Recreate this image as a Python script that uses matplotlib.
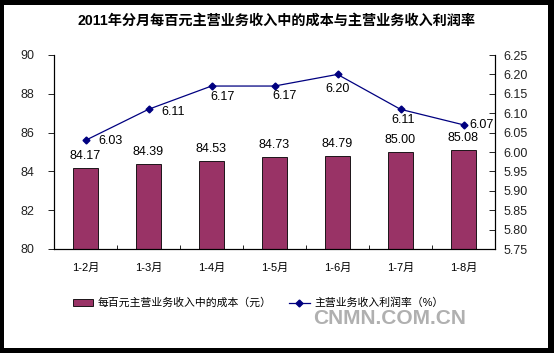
import matplotlib
matplotlib.use("Agg")
import matplotlib.pyplot as plt
from matplotlib.patches import Rectangle
import numpy as np

plt.rcParams['font.family'] = ['Liberation Sans', 'Noto Sans CJK SC', 'DejaVu Sans']

months = ["1-2月", "1-3月", "1-4月", "1-5月", "1-6月", "1-7月", "1-8月"]
cost = [84.17, 84.39, 84.53, 84.73, 84.79, 85.00, 85.08]
margin = [6.03, 6.11, 6.17, 6.17, 6.20, 6.11, 6.07]

title = "2011年分月每百元主营业务收入中的成本与主营业务收入利润率"
bar_name = "每百元主营业务收入中的成本（元）"
line_name = "主营业务收入利润率（%）"

# per-label placement of the line labels, in pixels (dx, dy downwards)
line_lab_off = [(25, 1), (25, 3), (11, 11), (10, 10), (0, 15), (3, 11), (18, 0)]

BAR = "#993366"
LINE = "#000080"

W, H = 554, 353
fig = plt.figure(figsize=(W / 100, H / 100), dpi=100)
fig.patch.set_facecolor("black")
fig.add_artist(Rectangle((4 / W, 5 / H), 544 / W, 343 / H, transform=fig.transFigure,
                         facecolor="white", edgecolor="none", zorder=-10))

ax = fig.add_axes([54 / W, 1 - 249 / H, 441 / W, 194 / H])
x = np.arange(len(months))
ax.bar(x, cost, width=0.41, color=BAR, edgecolor="black", linewidth=0.6,
       label=bar_name, zorder=2)
ax.set_ylim(80, 90)
ax.set_yticks(np.arange(80, 91, 2))
ax.set_xlim(-0.5, len(months) - 0.5)
ax.set_xticks(x)
ax.set_xticklabels(months, fontsize=8)
ax.set_xticks(np.arange(-0.5, len(months)), minor=True)
ax.tick_params(axis="x", which="major", length=0, pad=10)
ax.tick_params(axis="x", which="minor", direction="in", length=3, width=0.6)
ax.tick_params(axis="y", direction="out", length=4, width=0.6, labelsize=9,
               labelcolor="#222222", pad=10)
ax.spines["top"].set_visible(False)
for s in ["left", "bottom", "right"]:
    ax.spines[s].set_linewidth(0.8)

for xi, v in zip(x, cost):
    ax.annotate(f"{v:.2f}", (xi, v), xytext=(0, 4.5), textcoords="offset points",
                ha="center", va="bottom", fontsize=9)

ax2 = ax.twinx()
ax2.plot(x, margin, color=LINE, marker="D", markersize=3.5, linewidth=0.9,
         label=line_name, zorder=3)
ax2.set_ylim(5.75, 6.25)
ticks2 = np.arange(5.75, 6.26, 0.05)
ax2.set_yticks(ticks2)
ax2.set_yticklabels([f"{t:.2f}" for t in ticks2])
ax2.tick_params(axis="y", direction="in", length=4, width=0.6, labelsize=9,
                labelcolor="#222222", pad=6)
ax2.spines["top"].set_visible(False)
ax2.spines["right"].set_linewidth(0.8)

for xi, v, (dx, dy) in zip(x, margin, line_lab_off):
    ax2.annotate(f"{v:.2f}", (xi, v), xytext=(dx * 0.72, -dy * 0.72),
                 textcoords="offset points", ha="center", va="center", fontsize=9)

fig.text(0.5, 1 - 21 / H, title, ha="center", va="center", fontsize=10.2,
         fontweight="bold")

h1, l1 = ax.get_legend_handles_labels()
h2, l2 = ax2.get_legend_handles_labels()
fig.legend(h1 + h2, l1 + l2, loc="center", bbox_to_anchor=(258 / W, 1 - 303 / H),
           ncol=2, frameon=False, fontsize=7.8, handlelength=1.9, handleheight=0.55,
           columnspacing=1.6, handletextpad=0.4)

fig.text(390 / W, 1 - 318 / H, "CNMN.COM.CN", ha="center", va="center",
         fontsize=15, color="#b0b0b0", fontweight="bold")

fig.savefig("out.png", dpi=100, facecolor=fig.get_facecolor())
